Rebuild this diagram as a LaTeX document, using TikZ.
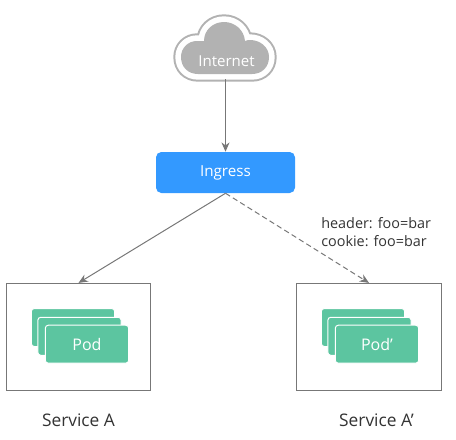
\documentclass[tikz,border=0pt]{standalone}
\usepackage{fontspec}
\setmainfont{Open Sans}
\usetikzlibrary{arrows.meta}
\definecolor{podgreen}{HTML}{5CC5A0}
\definecolor{ingblue}{HTML}{3399FF}
\definecolor{linegray}{HTML}{777777}
\definecolor{cloudgray}{HTML}{B2B2B2}
\definecolor{txt}{HTML}{333333}
\tikzset{
  x=0.75pt,y=-0.75pt,
  servicebox/.style={draw=linegray,line width=0.75pt,fill=white,minimum height=80pt,inner sep=0pt},
  podcard/.style={fill=podgreen,draw=white,line width=0.75pt,rounded corners=2.2pt,minimum width=62.5pt,minimum height=28.5pt,inner sep=0pt,text=white,font=\fontsize{12}{14}\selectfont},
  conn/.style={draw=linegray,line width=0.75pt,-{Stealth[length=7pt,width=6pt]}},
  caption/.style={text=txt,inner sep=0pt,font=\fontsize{13}{15}\selectfont},
  note/.style={text=txt,inner sep=0pt,font=\fontsize{10.8}{13}\selectfont},
}
\begin{document}
\begin{tikzpicture}
\useasboundingbox (0,0) rectangle (456,439);
\def\cloudshape{(198,74) -- (252,74)
  .. controls (262,74) and (269,67) .. (269,57)
  .. controls (269,47) and (260,40) .. (250,40)
  .. controls (249,40) and (247,40) .. (245,41)
  .. controls (244,30) and (235,22) .. (224,22)
  .. controls (213,22) and (204,30) .. (204,41)
  .. controls (202,41) and (199,41) .. (197,41)
  .. controls (188,41) and (181,48) .. (181,57)
  .. controls (181,67) and (188,74) .. (198,74) -- cycle}
\draw[cloudgray,line width=11.5pt,line join=round] \cloudshape;
\draw[white,line width=8.5pt,line join=round] \cloudshape;
\fill[cloudgray] \cloudshape;
\node[text=white,inner sep=0pt,font=\fontsize{11.3}{13}\selectfont] (internet) at (226.5,61) {Internet};
\coordinate (cloudbottom) at (225.5,79);
\node[fill=ingblue,rounded corners=4pt,minimum width=104.25pt,minimum height=30.75pt,inner sep=0pt,text=white,font=\fontsize{11.4}{14}\selectfont] (ingress) at (225.5,172.5) {Ingress};
\node[servicebox,minimum width=108pt] (a) at (78.5,336.75) {};
\node[servicebox,minimum width=108.75pt] (b) at (369,336.75) {};
\node[podcard] (a3) at (73,327.5) {};
\node[podcard] (a2) at (79.5,336.3) {};
\node[podcard] (a1) at (87,344.2) {Pod};
\node[podcard] (b3) at (363,327.5) {};
\node[podcard] (b2) at (369.5,336.3) {};
\node[podcard] (b1) at (377,344.2) {Pod’};
\draw[conn] (cloudbottom) -- (ingress.north);
\draw[conn] (ingress.south) -- (a.north);
\draw[conn,dashed,dash pattern=on 4pt off 2.5pt] (ingress.south) -- (b.north);
\node[note,anchor=west] (hdr) at (321,223) {header: foo=bar};
\node[note,anchor=west] (ck) at (321,241) {cookie: foo=bar};
\node[caption] (la) at (78.5,420.5) {Service A};
\node[caption] (lb) at (376.5,420.5) {Service A’};
\end{tikzpicture}
\end{document}
